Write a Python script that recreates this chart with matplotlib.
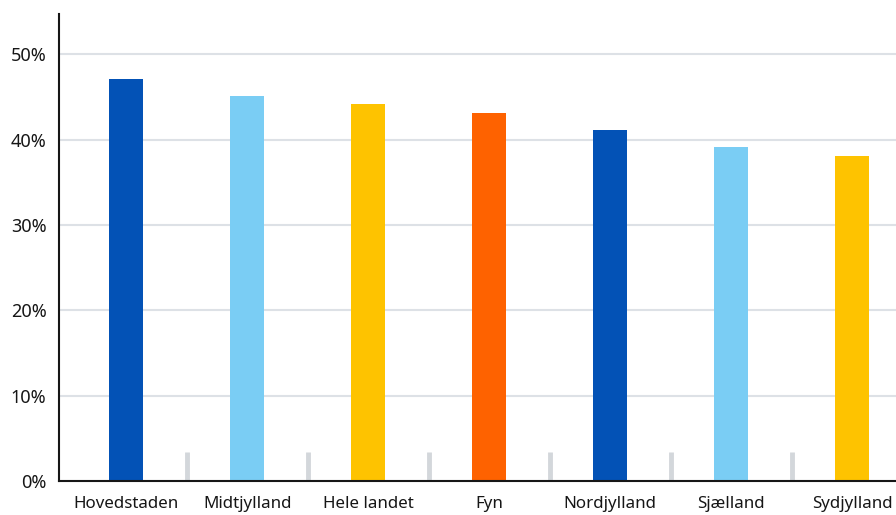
import numpy as np
import matplotlib.pyplot as plt

plt.rcParams['font.family'] = ['Noto Sans', 'DejaVu Sans']

# data
regions = ["Hovedstaden", "Midtjylland", "Hele landet", "Fyn",
           "Nordjylland", "Sjælland", "Sydjylland"]
shares = [47.1, 45.1, 44.1, 43.1, 41.1, 39.1, 38.1]
colors = ["#0352b6", "#7acdf4", "#fec300", "#fe6200",
          "#0352b6", "#7acdf4", "#fec300"]
y_ticks = [0, 10, 20, 30, 40, 50]

fig = plt.figure(figsize=(8.96, 5.15), dpi=100)
ax = fig.add_axes([59 / 896, 1 - 481 / 515, 1 - 59 / 896, (481 - 14) / 515])

x = np.arange(len(regions))
ax.bar(x, shares, width=0.28, color=colors, zorder=3)

# small grey separators between categories
ax.vlines(x[:-1] + 0.5, 0, 3.4, color="#d3d7db", linewidth=3.5, zorder=2)

ax.set_xlim(-0.554, len(regions) - 1 + 0.36)
ax.set_ylim(0, 54.7)
ax.set_yticks(y_ticks)
ax.set_yticklabels([f"{v}%" for v in y_ticks])
ax.set_xticks(x)
ax.set_xticklabels(regions)

ax.grid(axis="y", color="#dde1e6", linewidth=1.5, zorder=0)
ax.set_axisbelow(True)
for side in ["top", "right"]:
    ax.spines[side].set_visible(False)
for side in ["left", "bottom"]:
    ax.spines[side].set_color("#161616")
    ax.spines[side].set_linewidth(1.5)
    ax.spines[side].set_zorder(4)

ax.tick_params(axis="both", length=0, colors="#161616")
ax.tick_params(axis="x", pad=10.5, labelsize=12.2)
ax.tick_params(axis="y", pad=9, labelsize=13)

fig.savefig("out.png", dpi=100)
